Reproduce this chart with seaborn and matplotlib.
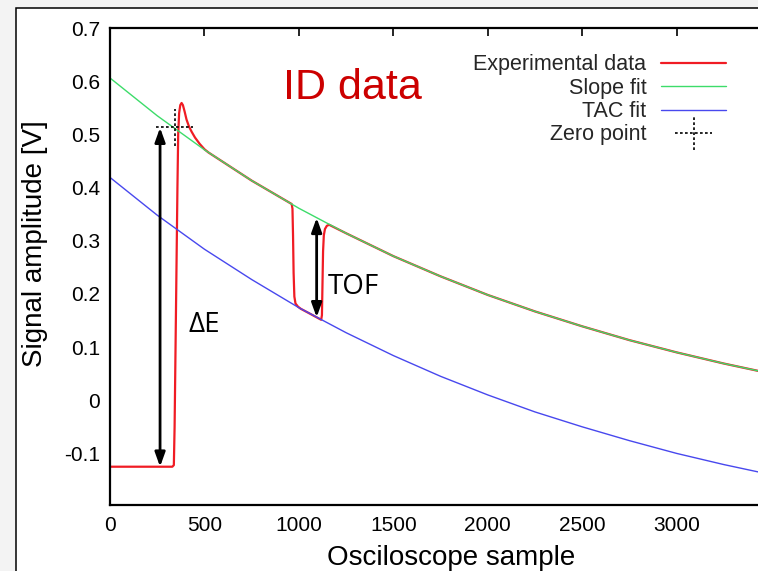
import matplotlib
matplotlib.use("Agg")
import matplotlib.pyplot as plt
from matplotlib.patches import Rectangle
from matplotlib.legend_handler import HandlerErrorbar
from matplotlib.container import ErrorbarContainer
import seaborn as sns
import pandas as pd

# Recorded oscilloscope trace: sample index and signal amplitude [V]
exp_x = [0, 150, 330, 338, 342, 347, 352, 357, 361, 366, 372, 379, 386, 395,
         405, 418, 432, 450, 475, 500, 521, 750, 962, 966, 969, 972, 976, 982,
         995, 1010, 1060, 1118, 1122, 1125, 1128, 1132, 1138, 1148, 1160, 1250,
         1500, 1750, 2000, 2250, 2500, 2750, 3000, 3250, 3500]
exp_y = [-0.125, -0.125, -0.125, -0.122, -0.05, 0.10, 0.25, 0.40, 0.50, 0.54,
         0.555, 0.559, 0.555, 0.543, 0.528, 0.515, 0.505, 0.494, 0.482, 0.472,
         0.466, 0.413, 0.369, 0.360, 0.310, 0.240, 0.195, 0.182, 0.176, 0.172,
         0.1625, 0.1513, 0.160, 0.220, 0.280, 0.310, 0.322, 0.328, 0.330, 0.314,
         0.271, 0.233, 0.198, 0.167, 0.139, 0.113, 0.090, 0.069, 0.050]

# Fitted curves sampled along the time axis
fit_x = [0, 250, 500, 750, 1000, 1250, 1500, 1750, 2000, 2250, 2500, 2750,
         3000, 3250, 3500]
slope_y = [0.606, 0.535, 0.471, 0.413, 0.361, 0.314, 0.271, 0.233, 0.198,
           0.167, 0.139, 0.113, 0.090, 0.069, 0.050]
tac_y = [0.419, 0.348, 0.284, 0.227, 0.174, 0.127, 0.084, 0.045, 0.010,
         -0.022, -0.050, -0.076, -0.100, -0.121, -0.140]

# Zero point (crossing of signal edge and slope fit) with its extent
zero_x = [344]
zero_y = [0.513]
zero_xerr = [98]
zero_yerr = [0.035]

# Energy-loss and time-of-flight spans
de_x = 265
de_span = (-0.125, 0.5125)
tof_x = 1094
tof_span = (0.156, 0.343)

x_ticks = [0, 500, 1000, 1500, 2000, 2500, 3000]
x_tick_labels = ["0", "500", "1000", "1500", "2000", "2500", "3000"]
y_ticks = [-0.1, 0.0, 0.1, 0.2, 0.3, 0.4, 0.5, 0.6, 0.7]
y_tick_labels = ["-0.1", "0", "0.1", "0.2", "0.3", "0.4", "0.5", "0.6", "0.7"]

sns.set_theme(style="white")
plt.rcParams["font.family"] = ["Liberation Sans", "DejaVu Sans"]
plt.rcParams["axes.unicode_minus"] = False

W, H = 758, 571
fig = plt.figure(figsize=(W / 100, H / 100), dpi=100)
fig.patch.set_facecolor("#f3f3f3")
fig.patches.append(Rectangle((16 / W, -0.05), 1.2, 1.05 - 8 / H,
                             transform=fig.transFigure, facecolor="white",
                             edgecolor="black", linewidth=1.1, zorder=-5))

ax = fig.add_axes([110 / W, (H - 505) / H, 680 / W, 477 / H])
ax.set_facecolor("white")

df_exp = pd.DataFrame({"sample": exp_x, "amp": exp_y})
df_fit = pd.DataFrame({"sample": fit_x, "slope": slope_y, "tac": tac_y})

sns.lineplot(data=df_exp, x="sample", y="amp", ax=ax, color="#f01c24",
             linewidth=1.6, label="Experimental data", estimator=None, sort=False)
sns.lineplot(data=df_fit, x="sample", y="slope", ax=ax, color="#3ddc6a",
             linewidth=1.0, label="Slope fit", estimator=None)
sns.lineplot(data=df_fit, x="sample", y="tac", ax=ax, color="#4848ee",
             linewidth=1.0, label="TAC fit", estimator=None)

eb = ax.errorbar(zero_x, zero_y, xerr=zero_xerr, yerr=zero_yerr, fmt="none",
                 ecolor="black", elinewidth=1.2, capsize=0, label="Zero point")
for coll in eb.lines[2]:
    coll.set_linestyle((0, (1.6, 1.4)))

arrow_kw = dict(arrowstyle="<|-|>,head_length=0.5,head_width=0.18",
                color="black", lw=2.0, mutation_scale=17, shrinkA=0, shrinkB=0)
ax.annotate("", xy=(de_x, de_span[1]), xytext=(de_x, de_span[0]),
            arrowprops=arrow_kw)
ax.annotate("", xy=(tof_x, tof_span[1]), xytext=(tof_x, tof_span[0]),
            arrowprops=arrow_kw)

ax.text(498, 0.128, "ΔE", fontsize=20, family=["Open Sans", "DejaVu Sans"],
        ha="center", va="baseline", color="black")
ax.text(1288, 0.200, "TOF", fontsize=20, family=["Open Sans", "DejaVu Sans"],
        ha="center", va="baseline", color="black")
ax.text(1284, 0.5657, "ID data", fontsize=31, color="#cc0000",
        ha="center", va="baseline")

ax.set_xlim(0, 3600)
ax.set_ylim(-0.197, 0.7)
ax.set_xticks(x_ticks)
ax.set_xticklabels(x_tick_labels)
ax.set_yticks(y_ticks)
ax.set_yticklabels(y_tick_labels)
ax.tick_params(axis="both", direction="in", length=6, width=1.2,
               colors="black", labelsize=15, top=True, right=True)
ax.tick_params(axis="x", pad=8)
ax.tick_params(axis="y", pad=7.2)
for side in ["left", "bottom", "top", "right"]:
    ax.spines[side].set_visible(True)
    ax.spines[side].set_color("black")
    ax.spines[side].set_linewidth(1.6)

ax.set_xlabel("Osciloscope sample", fontsize=20, color="black")
ax.set_ylabel("Signal amplitude [V]", fontsize=20, color="black")
ax.xaxis.set_label_coords(0.501, -0.083)
ax.yaxis.set_label_coords((47.6 - 110) / 680, 0.547)

handles, labels = ax.get_legend_handles_labels()
ax.legend(handles, labels, loc="upper right",
          bbox_to_anchor=(726 / W, 1 - 54.3 / H), bbox_transform=fig.transFigure,
          frameon=False, fontsize=15.5, markerfirst=False, handlelength=3.0,
          handletextpad=0.7, labelspacing=0.11, borderpad=0, borderaxespad=0,
          handler_map={ErrorbarContainer: HandlerErrorbar(xerr_size=0.85,
                                                          yerr_size=0.81)})

fig.savefig("out.png", dpi=100, facecolor=fig.get_facecolor())
